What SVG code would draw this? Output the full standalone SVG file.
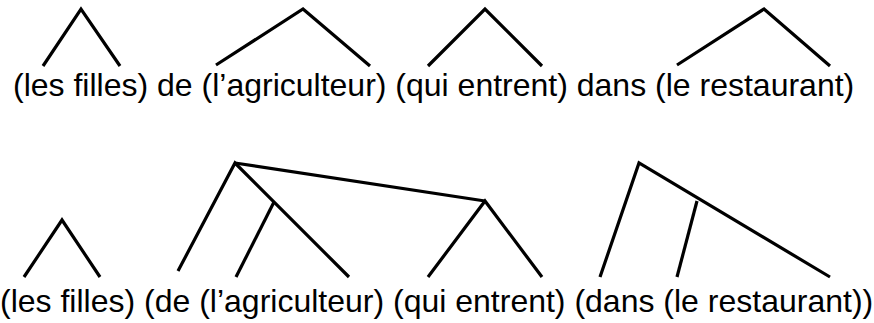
<svg xmlns="http://www.w3.org/2000/svg" width="874" height="323" viewBox="0 0 874 323">
<style>
.t{font-family:"Liberation Sans",Arial,sans-serif;font-size:32px;fill:#000}
.e{stroke:#000;stroke-width:3.2;fill:none;stroke-linecap:butt;stroke-linejoin:miter}
</style>
<rect width="874" height="323" fill="#fff"/>
<g id="top-sentence"><text class="t" x="13" y="96">(les filles) de (l’agriculteur) (qui entrent) dans (le restaurant)</text></g>
<g id="bottom-sentence"><text class="t" x="0" y="312">(les filles) (de (l’agriculteur) (qui entrent) (dans (le restaurant))</text></g>
<g id="connectors">
<polyline class="e" points="43,66 81,9 120,66"/>
<polyline class="e" points="216,65 303,9 370,66"/>
<polyline class="e" points="428,66 485,9 542,66"/>
<polyline class="e" points="677,65 764,9 830,66"/>
<polyline class="e" points="24,277 62,220 100,277"/>
<polyline class="e" points="178,271 235,163 349,277"/>
<line class="e" x1="274" y1="202" x2="236" y2="277"/>
<polyline class="e" points="235,163 485,201"/>
<polyline class="e" points="428,277 485,201 542,277"/>
<polyline class="e" points="600,277 639,163 830,277"/>
<line class="e" x1="697" y1="201" x2="677" y2="277"/>
</g>
</svg>
